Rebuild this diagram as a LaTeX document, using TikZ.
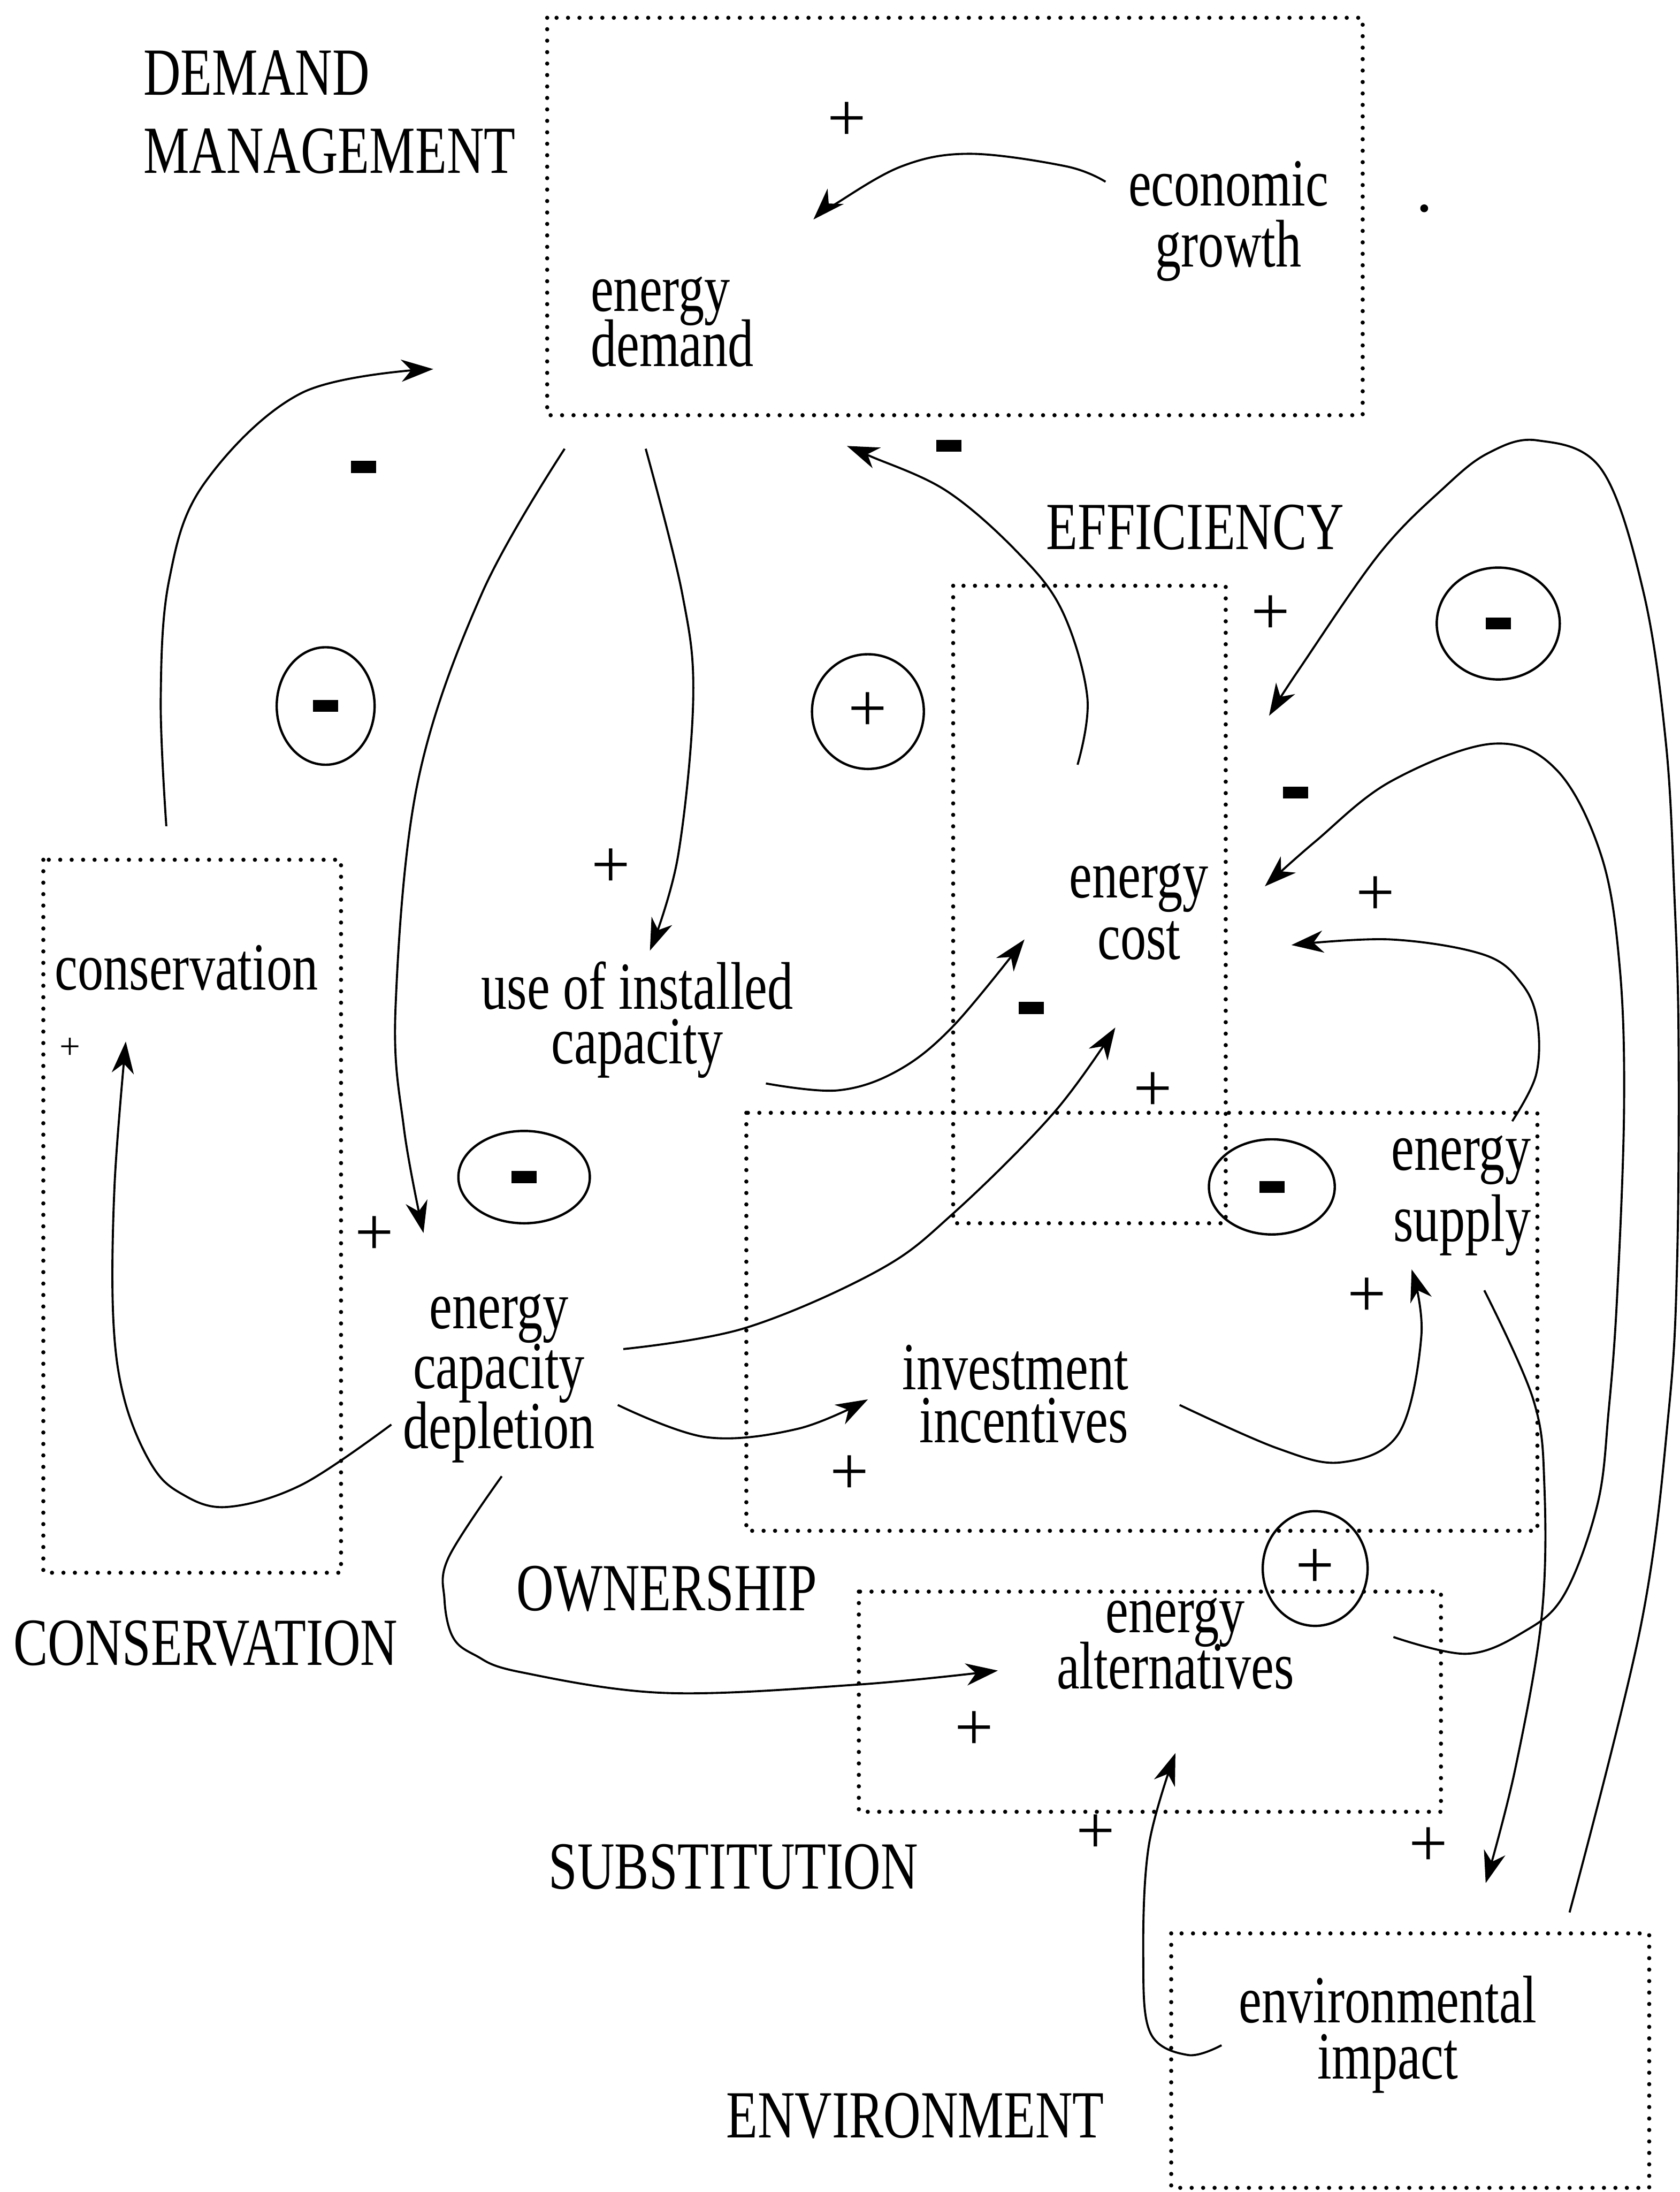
\documentclass[tikz,border=0pt]{standalone}
\usepackage{fontspec}
\setmainfont{Liberation Serif}[FakeStretch=0.765]
\newfontfamily\signfont{Liberation Serif}
\usetikzlibrary{arrows.meta,shapes.geometric}
\newcommand\signbar{\rule{0.18cm}{0.085cm}}

\begin{document}
\begin{tikzpicture}[x=0.01cm,y=-0.01cm,
  lbl/.style={inner sep=0pt, font={\fontsize{13.7}{#1}\selectfont\lineskiplimit=-100pt\relax}},
  lbl/.default=14,
  zone/.style={line width=0.85pt, dash pattern=on 0pt off 2.33pt, line cap=round},
  link/.style={line width=0.42pt, -{Stealth[length=6.5pt,width=4.5pt,inset=2pt]}},
  loopmark/.style={ellipse, draw, line width=0.48pt, inner sep=0pt,
    font=\signfont\fontsize{14}{14}\selectfont},
  sign/.style={inner sep=0pt, font=\signfont\fontsize{14}{14}\selectfont},
  bar/.style={rectangle, fill=black, inner sep=0pt, minimum width=0.18cm, minimum height=0.085cm}
]
% canvas
\fill[white] (0,0) rectangle (1202,1568);
\useasboundingbox (0,0) rectangle (1202,1568);

% policy zones (dotted frames)
\draw[zone] (391.5,12.7) rectangle (975,297);
\draw[zone] (31,615) rectangle (244,1125);
\draw[zone] (682,419) rectangle (877,875);
\draw[zone] (534,796) rectangle (1100,1095);
\draw[zone] (614.5,1138.5) rectangle (1031,1296);
\draw[zone] (838,1383) rectangle (1180,1565);

% zone titles (multi-line nodes sit on the baseline of their last line)
\node[lbl=15.9, align=left, anchor=base west] (dmT) at (102,124) {DEMAND\\MANAGEMENT};
\node[lbl, anchor=base west] (effT) at (748,393) {EFFICIENCY};
\node[lbl, anchor=base west] (consT) at (9,1191) {CONSERVATION};
\node[lbl, anchor=base west] (ownT) at (369,1152) {OWNERSHIP};
\node[lbl, anchor=base west] (subT) at (392,1351) {SUBSTITUTION};
\node[lbl, anchor=base west] (envT) at (519,1529) {ENVIRONMENT};

% variables
\node[lbl=12.5, align=center, anchor=base] (growth) at (879,191) {economic\\growth};
\node[lbl=11.2, align=left, anchor=base west] (demand) at (422,262) {energy\\demand};
\node[lbl, anchor=base] (cons) at (133.5,708) {conservation};
\node[lbl=11.1, align=center, anchor=base] (use) at (456,761) {use of installed\\capacity};
\node[lbl=12.5, align=center, anchor=base] (cost) at (815,686) {energy\\cost};
\node[lbl=12.2, align=center, anchor=base] (depl) at (357,1036) {energy\\capacity\\depletion};
\node[lbl=10.8, align=right, anchor=base east] (invest) at (808,1032) {investment\\incentives};
\node[lbl=14.5, align=right, anchor=base east] (supply) at (1096,888) {energy\\supply};
\node[lbl=11.4, align=center, anchor=base] (alt) at (841,1208) {energy\\alternatives};
\node[lbl=11.4, align=center, anchor=base] (env) at (993,1487) {environmental\\impact};

% loop polarity marks
\node[loopmark, minimum width=0.70cm, minimum height=0.84cm] (L1) at (233,505) {\signbar};
\node[loopmark, minimum width=0.80cm, minimum height=0.82cm] (L2) at (621,509) {+};
\node[loopmark, minimum width=0.88cm, minimum height=0.80cm] (L3) at (1072,446) {\signbar};
\node[loopmark, minimum width=0.94cm, minimum height=0.66cm] (L4) at (375,842) {\signbar};
\node[loopmark, minimum width=0.90cm, minimum height=0.68cm] (L5) at (910,849) {\signbar};
\node[loopmark, minimum width=0.75cm, minimum height=0.82cm] (L6) at (941,1122) {+};

% link end points
\coordinate (growth-o) at (791,130);
\coordinate (demand-i1) at (582,157);
\coordinate (cons-o) at (119,591);
\coordinate (demand-i2) at (310,264);
\coordinate (demand-o1) at (404,321);
\coordinate (depl-i) at (303,882);
\coordinate (demand-o2) at (462,321);
\coordinate (use-i) at (465,680);
\coordinate (cost-o) at (771,547);
\coordinate (demand-i3) at (606,319);
\coordinate (use-o) at (548,775);
\coordinate (cost-i1) at (733,672);
\coordinate (depl-o1) at (446,965);
\coordinate (cost-i2) at (798,735);
\coordinate (depl-o2) at (442,1005);
\coordinate (invest-i) at (621,1001);
\coordinate (invest-o) at (844,1005);
\coordinate (supply-i) at (1010,908);
\coordinate (depl-o3) at (280,1019);
\coordinate (cons-i) at (90,745);
\coordinate (depl-o4) at (359,1056);
\coordinate (alt-i1) at (714,1195);
\coordinate (supply-o1) at (1062,923);
\coordinate (env-i) at (1063,1347);
\coordinate (env-o1) at (874,1463);
\coordinate (alt-i2) at (841,1254);
\coordinate (alt-o) at (997,1171);
\coordinate (cost-i3) at (905,634);
\coordinate (env-o2) at (1123,1368);
\coordinate (cost-i4) at (908,512);
\coordinate (supply-o2) at (1082,802);
\coordinate (cost-i5) at (924,676);

% causal links
\draw[link] plot[smooth, tension=0.6] coordinates {(growth-o) (763,119) (694,110) (645,119) (596,147) (demand-i1)};
\draw[link] plot[smooth, tension=0.6] coordinates {(cons-o) (115,500) (121,415) (146,346) (216,281) (demand-i2)};
\draw[link] plot[smooth, tension=0.6] coordinates {(demand-o1) (345,424) (299,559) (283,721) (289,807) (depl-i)};
\draw[link] plot[smooth, tension=0.6] coordinates {(demand-o2) (488,424) (496,499) (485,613) (use-i)};
\draw[link] plot[smooth, tension=0.6] coordinates {(cost-o) (778,499) (760,437) (728,395) (677,351) (622,326) (demand-i3)};
\draw[link] plot[smooth, tension=0.6] coordinates {(use-o) (599,780) (642,766) (682,734) (cost-i1)};
\draw[link] plot[smooth, tension=0.6] coordinates {(depl-o1) (533,950) (628,909) (682,868) (754,796) (cost-i2)};
\draw[link] plot[smooth, tension=0.6] coordinates {(depl-o2) (505,1028) (571,1022) (invest-i)};
\draw[link] plot[smooth, tension=0.6] coordinates {(invest-o) (914,1036) (960,1046) (1001,1025) (1017,955) (supply-i)};
\draw[link] plot[smooth, tension=0.6] coordinates {(depl-o3) (216,1062) (162,1078) (129,1068) (108,1047) (89,1001) (81,942) (82,847) (cons-i)};
\draw[link] plot[smooth, tension=0.6] coordinates {(depl-o4) (321,1114) (318,1144) (324,1171) (340,1184) (372,1196) (476,1211) (614,1205) (alt-i1)};
\draw[link] plot[smooth, tension=0.6] coordinates {(supply-o1) (1097,1001) (1105,1063) (1103,1157) (1084,1266) (env-i)};
\draw[link] plot[smooth, tension=0.6] coordinates {(env-o1) (850,1470) (823,1454) (818,1400) (822,1320) (alt-i2)};
\draw[link] plot[smooth, tension=0.6] coordinates {(alt-o) (1049,1183) (1089,1168) (1119,1141) (1143,1076) (1151,1009) (1157,928) (1162,793) (1159,693) (1146,613) (1114,551) (1068,532) (995,559) (941,602) (cost-i3)};
\draw[link] plot[smooth, tension=0.6] coordinates {(env-o2) (1174,1163) (1194,1009) (1200,901) (1201,742) (1198,640) (1192,532) (1176,424) (1146,336) (1100,315) (1065,324) (1033,349) (987,396) (930,478) (cost-i4)};
\draw[link] plot[smooth, tension=0.6] coordinates {(supply-o2) (1099,769) (1100,731) (1089,704) (1062,683) (995,672) (cost-i5)};

% link polarities
\node[sign] (p1) at (606,87) {+};
\node[sign] (p2) at (437,621) {+};
\node[sign] (p3) at (268,884) {+};
\node[sign] (p4) at (909,440) {+};
\node[sign] (p5) at (984,641) {+};
\node[sign] (p6) at (825,781) {+};
\node[sign] (p7) at (608,1055) {+};
\node[sign] (p8) at (978,928) {+};
\node[sign] (p9) at (697,1238) {+};
\node[sign] (p10) at (784,1312) {+};
\node[sign] (p11) at (1022,1321) {+};
\node[sign, font=\signfont\fontsize{7.5}{8}\selectfont] (p12) at (50,750) {+};
\node[bar] (m1) at (260,334) {};
\node[bar] (m2) at (679,319) {};
\node[bar] (m3) at (927,567) {};
\node[bar] (m4) at (738,721) {};

% speck
\fill (1019,149) circle (0.8pt);
\end{tikzpicture}
\end{document}
